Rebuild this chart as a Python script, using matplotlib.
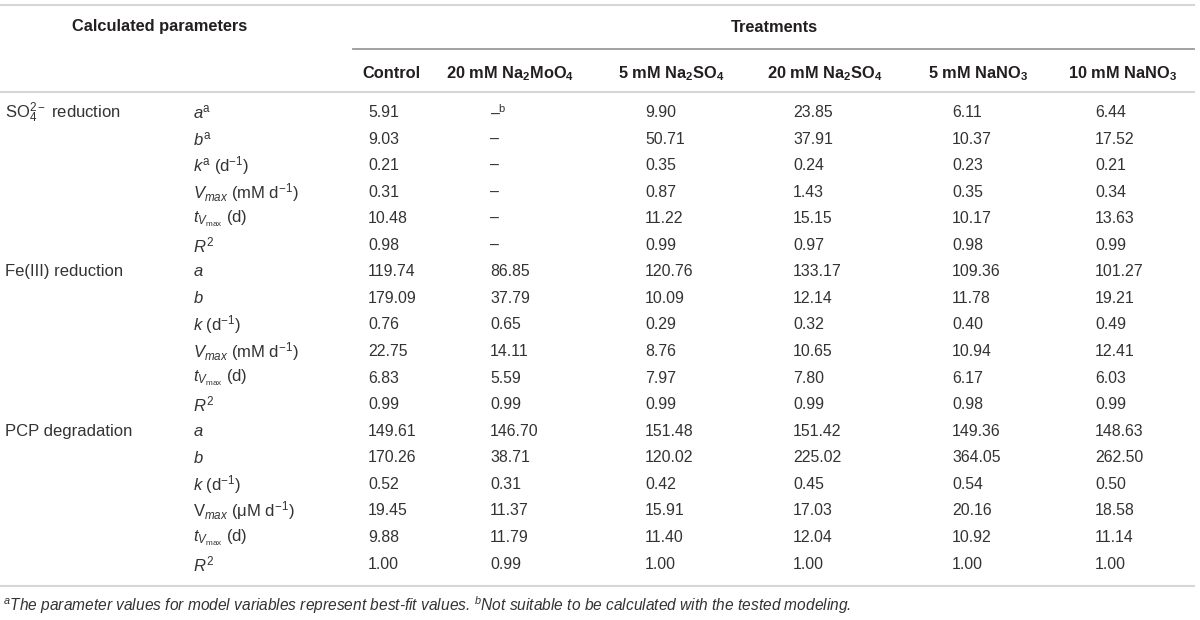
import matplotlib
matplotlib.use("Agg")
import matplotlib.pyplot as plt

# ------------------------------------------------------------------
# Table data (kinetic fit parameters per treatment)
# ------------------------------------------------------------------
groups = [r"SO$_4^{2-}$ reduction", "Fe(III) reduction", "PCP degradation"]

params_so4 = [r"$a^{\mathrm{a}}$", r"$b^{\mathrm{a}}$", r"$k^{\mathrm{a}}$ (d$^{-1}$)",
              r"$V_{max}$ (mM d$^{-1}$)", r"$t_{V_{\mathrm{max}}}$ (d)", r"$R^2$"]
params_fe = [r"$a$", r"$b$", r"$k$ (d$^{-1}$)",
             r"$V_{max}$ (mM d$^{-1}$)", r"$t_{V_{\mathrm{max}}}$ (d)", r"$R^2$"]
params_pcp = [r"$a$", r"$b$", r"$k$ (d$^{-1}$)",
              r"V$_{max}$ ($\mathrm{\mu}$M d$^{-1}$)", r"$t_{V_{\mathrm{max}}}$ (d)", r"$R^2$"]

treatments = ["Control",
              r"20 mM Na$_{\mathbf{2}}$MoO$_{\mathbf{4}}$",
              r"5 mM Na$_{\mathbf{2}}$SO$_{\mathbf{4}}$",
              r"20 mM Na$_{\mathbf{2}}$SO$_{\mathbf{4}}$",
              r"5 mM NaNO$_{\mathbf{3}}$",
              r"10 mM NaNO$_{\mathbf{3}}$"]

# rows: SO4 (a, b, k, Vmax, tVmax, R2), Fe(III) (...), PCP (...)
control = [5.91, 9.03, 0.21, 0.31, 10.48, 0.98,
           119.74, 179.09, 0.76, 22.75, 6.83, 0.99,
           149.61, 170.26, 0.52, 19.45, 9.88, 1.00]
molybdate_20 = [None, None, None, None, None, None,
                86.85, 37.79, 0.65, 14.11, 5.59, 0.99,
                146.70, 38.71, 0.31, 11.37, 11.79, 0.99]
sulfate_5 = [9.90, 50.71, 0.35, 0.87, 11.22, 0.99,
             120.76, 10.09, 0.29, 8.76, 7.97, 0.99,
             151.48, 120.02, 0.42, 15.91, 11.40, 1.00]
sulfate_20 = [23.85, 37.91, 0.24, 1.43, 15.15, 0.97,
              133.17, 12.14, 0.32, 10.65, 7.80, 0.99,
              151.42, 225.02, 0.45, 17.03, 12.04, 1.00]
nitrate_5 = [6.11, 10.37, 0.23, 0.35, 10.17, 0.98,
             109.36, 11.78, 0.40, 10.94, 6.17, 0.98,
             149.36, 364.05, 0.54, 20.16, 10.92, 1.00]
nitrate_10 = [6.44, 17.52, 0.21, 0.34, 13.63, 0.99,
              101.27, 19.21, 0.49, 12.41, 6.03, 0.99,
              148.63, 262.50, 0.50, 18.58, 11.14, 1.00]

footnote = (r"$^{a}$The parameter values for model variables represent best-fit values. "
            r"$^{b}$Not suitable to be calculated with the tested modeling.")

# ------------------------------------------------------------------
# Layout (pixel coordinates, origin top-left)
# ------------------------------------------------------------------
plt.rcParams["font.family"] = ["Liberation Sans", "DejaVu Sans"]
plt.rcParams["mathtext.fontset"] = "custom"
plt.rcParams["mathtext.rm"] = "Liberation Sans"
plt.rcParams["mathtext.it"] = "Liberation Sans:italic"
plt.rcParams["mathtext.bf"] = "Liberation Sans:bold"

W, H = 1200, 620
fig = plt.figure(figsize=(W / 100, H / 100), dpi=100)
ax = fig.add_axes([0, 0, 1, 1])
ax.set_xlim(0, W)
ax.set_ylim(H, 0)
ax.axis("off")

fs_head = 11.8
fs_label = 12
fs_val = 11.4
fs_note = 11.2
head_col = "#231f20"
text_col = "#333333"
rule_col = "#d6d6d6"

head_x = [362, 446, 618, 767, 928, 1068]
val_x = [368, 490, 645, 793, 952, 1095]
group_x = 5
param_x = 193
row0, row_h = 112.5, 26.56

# horizontal rules
ax.plot([0, 1194], [5, 5], color=rule_col, lw=1.5)
ax.plot([353, 1194], [49, 49], color="#9a9a9a", lw=1.3)
ax.plot([0, 1194], [92, 92], color=rule_col, lw=1.5)
ax.plot([0, 1194], [586, 586], color=rule_col, lw=1.5)

# headers
ax.text(160, 27, "Calculated parameters", fontsize=fs_head, fontweight="bold",
        color=head_col, ha="center", va="center")
ax.text(774, 27, "Treatments", fontsize=fs_head, fontweight="bold",
        color=head_col, ha="center", va="center")
for x, name in zip(head_x, treatments):
    ax.text(x, 74, name, fontsize=fs_head, fontweight="bold", color=head_col,
            ha="left", va="center")

# group labels and parameter names
params = params_so4 + params_fe + params_pcp
for g, name in enumerate(groups):
    ax.text(group_x, row0 + g * 6 * row_h, name, fontsize=fs_label, color=text_col,
            ha="left", va="center")
for i, p in enumerate(params):
    ax.text(param_x, row0 + i * row_h, p, fontsize=fs_label, color=text_col,
            ha="left", va="center")

# values
columns = [control, molybdate_20, sulfate_5, sulfate_20, nitrate_5, nitrate_10]
for x, col in zip(val_x, columns):
    for i, v in enumerate(col):
        if v is None:
            s = "–$^{\\mathrm{b}}$" if i == 0 else "–"
        else:
            s = f"{v:.2f}"
        ax.text(x, row0 + i * row_h, s, fontsize=fs_val, color=text_col,
                ha="left", va="center")

ax.text(3, 605, footnote, fontsize=fs_note, style="italic", color=text_col,
        ha="left", va="center")

fig.savefig("out.png", dpi=100)
